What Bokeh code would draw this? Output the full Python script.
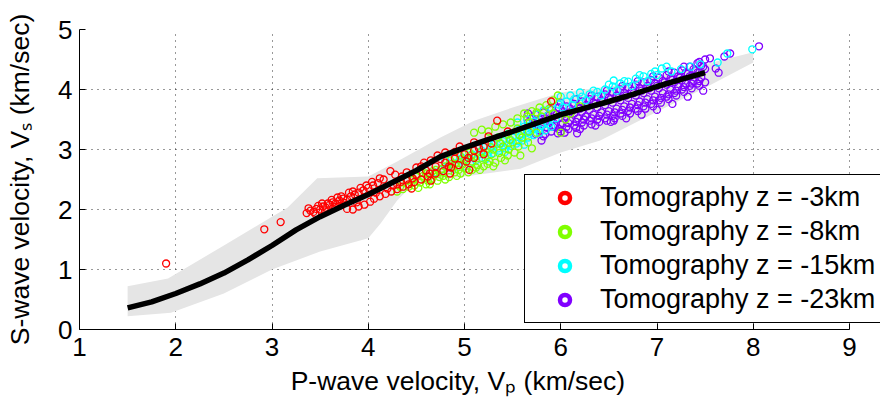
from bokeh.plotting import figure
from bokeh.models import FixedTicker, Legend, LegendItem
from bokeh.core.properties import value
from bokeh.embed import file_html
from bokeh.resources import INLINE

# ---------------- data ----------------
x_ticks = [1, 2, 3, 4, 5, 6, 7, 8, 9]
y_ticks = [0, 1, 2, 3, 4, 5]
x_title = "P-wave velocity, V\u209a (km/sec)"
y_title = "S-wave velocity, V\u209b (km/sec)"

trend_vp = [1.5, 1.75, 2.0, 2.25, 2.5, 2.75, 3.0, 3.25, 3.5, 3.75, 4.0, 4.25, 4.5,
            4.75, 5.0, 5.25, 5.5, 5.75, 6.0, 6.25, 6.5, 6.75, 7.0, 7.25, 7.5]
trend_vs = [0.36, 0.46, 0.60, 0.76, 0.94, 1.16, 1.40, 1.66, 1.88, 2.07, 2.25, 2.45, 2.65,
            2.88, 3.03, 3.17, 3.30, 3.44, 3.58, 3.69, 3.80, 3.92, 4.05, 4.17, 4.28]

band_upper_vp = [1.5, 1.92, 2.5, 3.0, 3.16, 3.47, 4.0, 4.3, 4.75, 5.1, 5.5, 6.0, 6.5, 7.0, 7.5, 8.0]
band_upper_vs = [0.72, 0.85, 1.40, 1.88, 2.03, 2.52, 2.55, 2.80, 3.20, 3.48, 3.70, 3.95, 4.05, 4.22, 4.42, 4.62]
band_lower_vp = [1.5, 1.95, 2.5, 3.0, 3.5, 4.0, 4.13, 4.3, 4.47, 5.0, 5.58, 6.0, 6.41, 7.0, 7.5, 8.0]
band_lower_vs = [0.22, 0.28, 0.60, 1.00, 1.30, 1.52, 1.77, 2.15, 2.43, 2.55, 2.68, 2.95, 3.15, 3.63, 4.03, 4.45]

series_names = ["Tomography z = -3km", "Tomography z = -8km",
                "Tomography z = -15km", "Tomography z = -23km"]
series_colors = ["#ff0000", "#80ff00", "#00ffff", "#8000ff"]

red_pts = [
    (1.90, 1.10), (2.92, 1.67), (3.09, 1.79),
    (3.36, 1.94), (3.40, 1.98), (3.43, 1.96), (3.46, 2.01), (3.50, 2.00), (3.53, 2.05),
    (3.56, 2.03), (3.60, 2.08), (3.63, 2.12), (3.66, 2.10), (3.70, 2.15), (3.74, 2.18),
    (3.78, 2.16), (3.82, 2.22), (3.86, 2.25), (3.90, 2.28), (3.95, 2.32), (4.00, 2.36),
    (4.05, 2.40), (4.10, 2.44), (4.16, 2.50), (4.23, 2.64), (3.45, 1.93), (3.55, 1.97),
    (3.65, 2.04), (3.75, 2.11),
    (3.78, 2.01), (3.84, 2.00), (3.90, 2.05), (3.96, 2.08), (4.02, 2.13), (4.06, 2.18),
    (4.12, 2.22), (4.18, 2.26), (4.24, 2.30), (4.30, 2.34), (4.36, 2.38), (4.42, 2.42),
    (4.48, 2.46), (4.55, 2.50), (4.62, 2.55), (4.70, 2.60), (4.78, 2.64), (4.86, 2.70),
    (4.94, 2.74), (5.02, 2.80), (5.10, 2.86), (4.20, 2.35), (4.30, 2.42), (4.40, 2.50),
    (4.50, 2.58), (4.60, 2.65), (4.70, 2.72), (4.80, 2.78), (4.90, 2.85), (5.00, 2.92),
    (5.10, 2.98), (5.20, 3.05), (5.28, 3.10), (4.45, 2.35), (4.65, 2.48), (4.85, 2.60),
    (5.05, 2.66),
    (4.35, 2.55), (4.50, 2.70), (4.65, 2.82), (4.80, 2.95), (4.95, 3.05), (5.10, 3.12),
    (5.25, 3.22), (5.34, 3.48), (5.45, 3.30), (5.90, 3.80), (4.40, 2.62), (4.58, 2.78),
    (4.72, 2.90),
    (3.48, 2.06), (3.58, 2.10), (3.68, 2.20), (3.80, 2.28), (3.92, 2.36), (4.04, 2.46),
    (3.70, 2.06), (3.88, 2.12), (4.08, 2.28), (4.26, 2.40), (4.46, 2.52), (4.64, 2.60),
    (4.84, 2.72), (5.04, 2.86), (4.55, 2.72), (4.75, 2.84), (4.90, 2.96), (5.15, 3.02),
    (4.34, 2.46), (5.20, 2.92),
    (3.38, 2.02), (3.52, 2.10), (3.62, 2.16), (3.72, 2.22), (3.84, 2.30), (3.98, 2.40),
    (4.12, 2.52), (4.28, 2.58),
]

green_pts = [
    (4.30, 2.30), (4.36, 2.34), (4.42, 2.38), (4.48, 2.40), (4.54, 2.45), (4.60, 2.42),
    (4.66, 2.50), (4.72, 2.48), (4.78, 2.56), (4.84, 2.54), (4.90, 2.62), (4.96, 2.60),
    (5.02, 2.68), (5.08, 2.66), (5.14, 2.74), (5.20, 2.72), (5.26, 2.80), (5.32, 2.78),
    (5.38, 2.86), (5.45, 2.90), (5.52, 2.95), (4.50, 2.55), (4.60, 2.60), (4.70, 2.66),
    (4.80, 2.72), (4.90, 2.76), (5.00, 2.82), (5.10, 2.88), (5.20, 2.94), (5.30, 3.00),
    (5.40, 3.05), (4.85, 2.82), (4.95, 2.90), (5.05, 2.95), (4.40, 2.48), (4.55, 2.62),
    (5.10, 3.28), (5.18, 3.33), (5.25, 3.30), (5.32, 3.38), (5.40, 3.42), (5.48, 3.45),
    (5.55, 3.52), (5.62, 3.60), (5.70, 3.64), (5.78, 3.70), (5.85, 3.74), (5.92, 3.82),
    (5.97, 3.90), (5.65, 3.55), (5.75, 3.62), (5.88, 3.68),
    (6.00, 3.28), (6.10, 3.60), (6.20, 3.72), (5.60, 3.20), (5.75, 3.28),
    (4.45, 2.44), (4.58, 2.52), (4.68, 2.58), (4.76, 2.62), (4.88, 2.70), (4.98, 2.75),
    (5.08, 2.80), (5.18, 2.86), (5.28, 2.92), (5.36, 2.94), (5.46, 3.00), (5.56, 3.05),
    (5.66, 3.12), (5.50, 3.12), (4.62, 2.48), (4.74, 2.54), (4.94, 2.66), (5.12, 2.70),
    (5.24, 2.76), (5.35, 3.20), (5.45, 3.25), (5.55, 3.35), (5.68, 3.45), (5.80, 3.55),
    (5.92, 3.60), (6.05, 3.50),
    (4.33, 2.38), (4.47, 2.50), (4.57, 2.56), (4.67, 2.64), (4.77, 2.68), (4.87, 2.76),
    (4.97, 2.84), (5.07, 2.90), (5.17, 2.96), (5.27, 3.04), (5.37, 3.10), (5.47, 3.16),
    (5.57, 3.24), (5.67, 3.30), (4.52, 2.36), (4.64, 2.42), (4.80, 2.50), (4.92, 2.56),
    (5.04, 2.62), (5.16, 2.66), (5.30, 2.72), (5.42, 2.82), (5.58, 2.90), (5.70, 3.02),
]

cyan_pts = [
    (4.70, 2.62), (4.76, 2.66), (4.82, 2.70), (4.88, 2.68), (4.94, 2.74), (5.00, 2.72),
    (5.06, 2.78), (5.12, 2.82), (5.18, 2.86), (5.24, 2.90), (5.30, 2.94), (5.36, 2.98),
    (5.42, 3.02), (5.48, 3.06), (5.54, 3.10), (5.60, 3.15), (5.66, 3.20), (5.72, 3.24),
    (5.78, 3.28), (5.84, 3.32), (5.90, 3.38),
    (4.80, 2.82), (4.90, 2.88), (5.00, 2.94), (5.10, 2.98), (5.20, 3.04), (5.30, 3.08),
    (5.40, 3.14), (5.50, 3.20), (5.60, 3.26), (5.70, 3.32), (5.80, 3.40),
    (5.55, 3.45), (5.65, 3.50), (5.75, 3.58), (5.82, 3.65), (5.90, 3.70), (5.98, 3.75),
    (6.06, 3.80), (6.14, 3.84), (6.22, 3.88), (6.30, 3.92), (6.38, 3.96), (6.46, 4.00),
    (6.54, 4.05), (6.62, 4.10), (6.70, 4.13), (6.78, 4.18), (6.86, 4.22), (6.94, 4.26),
    (7.05, 4.35), (7.15, 4.30), (7.25, 4.34), (7.35, 4.38), (7.45, 4.42), (7.63, 4.45),
    (7.73, 4.60), (7.99, 4.67), (6.20, 3.95), (6.55, 4.15), (6.00, 3.88),
    (4.85, 2.76), (4.95, 2.82), (5.05, 2.86), (5.15, 2.92), (5.25, 2.96), (5.35, 3.02),
    (5.45, 3.08), (5.55, 3.14), (5.65, 3.28), (5.75, 3.36), (5.85, 3.46), (5.95, 3.52),
    (5.15, 3.06), (5.25, 3.12), (5.35, 3.20), (5.45, 3.26), (5.62, 3.38), (5.72, 3.46),
    (6.02, 3.70), (6.12, 3.74), (6.26, 3.82), (6.42, 3.90), (6.58, 3.98), (6.74, 4.06),
    (6.90, 4.14), (7.00, 4.24),
    (4.98, 2.86), (5.08, 2.92), (5.18, 2.98), (5.28, 3.04), (5.38, 3.10), (5.48, 3.16),
    (5.58, 3.22), (5.68, 3.26), (5.78, 3.34), (5.88, 3.42), (5.02, 2.80), (5.22, 2.84),
    (5.42, 2.96), (5.62, 3.08), (6.10, 3.90), (6.34, 3.98), (6.50, 4.08), (6.66, 4.14),
    (6.82, 4.24), (6.98, 4.30), (7.10, 4.38),
]

purple_pts = [
    (5.66, 3.30), (5.66, 3.45), (5.66, 3.60), (5.74, 3.26), (5.74, 3.40), (5.74, 3.58),
    (5.82, 3.22), (5.82, 3.42), (5.82, 3.62), (5.90, 3.30), (5.90, 3.48), (5.90, 3.66),
    (5.98, 3.34), (5.98, 3.52), (5.98, 3.70), (6.06, 3.38), (6.06, 3.55), (6.06, 3.72),
    (6.14, 3.40), (6.14, 3.60), (6.14, 3.76), (6.22, 3.45), (6.22, 3.63), (6.22, 3.80),
    (6.30, 3.48), (6.30, 3.66), (6.30, 3.84), (6.38, 3.50), (6.38, 3.70), (6.38, 3.88),
    (6.46, 3.52), (6.46, 3.74), (6.46, 3.92), (6.54, 3.56), (6.54, 3.78), (6.54, 3.96),
    (6.62, 3.60), (6.62, 3.82), (6.62, 4.00), (6.70, 3.64), (6.70, 3.86), (6.70, 4.04),
    (6.78, 3.68), (6.78, 3.90), (6.78, 4.08), (6.86, 3.72), (6.86, 3.94), (6.86, 4.12),
    (6.94, 3.76), (6.94, 3.98), (6.94, 4.16), (7.02, 3.82), (7.02, 4.02), (7.02, 4.20),
    (7.10, 3.88), (7.10, 4.08), (7.10, 4.24), (7.18, 3.94), (7.18, 4.12), (7.18, 4.28),
    (7.26, 4.00), (7.26, 4.16), (7.26, 4.32), (7.34, 4.06), (7.34, 4.22), (7.34, 4.38),
    (7.42, 4.10), (7.42, 4.28), (7.42, 4.44), (7.50, 4.12), (7.50, 4.34), (7.50, 4.50),
    (5.70, 3.36), (5.70, 3.52), (5.78, 3.32), (5.78, 3.50), (5.86, 3.36), (5.86, 3.56),
    (5.94, 3.40), (5.94, 3.60), (6.02, 3.44), (6.02, 3.64), (6.10, 3.48), (6.10, 3.68),
    (6.18, 3.52), (6.18, 3.70), (6.26, 3.55), (6.26, 3.74), (6.34, 3.58), (6.34, 3.78),
    (6.42, 3.62), (6.42, 3.82), (6.50, 3.64), (6.50, 3.86), (6.58, 3.68), (6.58, 3.90),
    (6.66, 3.72), (6.66, 3.94), (6.74, 3.76), (6.74, 3.98), (6.82, 3.80), (6.82, 4.02),
    (6.90, 3.84), (6.90, 4.06), (6.98, 3.88), (6.98, 4.10), (7.06, 3.94), (7.06, 4.14),
    (7.14, 4.00), (7.14, 4.18), (7.22, 4.05), (7.22, 4.22), (7.30, 4.10), (7.30, 4.28),
    (7.38, 4.14), (7.38, 4.34), (7.46, 4.20), (7.46, 4.40),
    (5.97, 3.27), (6.17, 3.27), (6.55, 3.48), (7.61, 4.35), (7.64, 4.28), (7.70, 4.55),
    (7.76, 4.60), (8.06, 4.72), (7.55, 4.52), (5.80, 3.15),
    (5.72, 3.44), (5.80, 3.46), (5.88, 3.52), (5.96, 3.58), (6.04, 3.60), (6.12, 3.64),
    (6.20, 3.68), (6.28, 3.72), (6.36, 3.76), (6.44, 3.80), (6.52, 3.84), (6.60, 3.86),
    (6.68, 3.90), (6.76, 3.94), (6.84, 3.98), (6.92, 4.02), (7.00, 4.06), (7.08, 4.12),
    (7.16, 4.16), (7.24, 4.20), (7.32, 4.26), (7.40, 4.32), (7.48, 4.38),
    (6.00, 3.30), (6.08, 3.34), (6.16, 3.36), (6.24, 3.40), (6.32, 3.42), (6.40, 3.46),
    (6.48, 3.48), (6.56, 3.52), (6.64, 3.56), (6.72, 3.60), (6.80, 3.64), (6.88, 3.68),
    (6.96, 3.72), (7.04, 3.78), (7.12, 3.84), (7.20, 3.90), (7.28, 3.96), (7.36, 4.02),
    (7.44, 4.06),
    (6.00, 3.78), (6.16, 3.84), (6.32, 3.90), (6.48, 3.98), (6.64, 4.06), (6.80, 4.14),
    (6.96, 4.22), (7.12, 4.30), (7.28, 4.38), (7.44, 4.46),
    (5.84, 3.26), (5.92, 3.38), (6.00, 3.42), (6.08, 3.44), (6.16, 3.46), (6.24, 3.50),
    (6.32, 3.52), (6.40, 3.56), (6.48, 3.58), (6.56, 3.62), (6.64, 3.66), (6.72, 3.70),
    (6.80, 3.74), (6.88, 3.78), (6.96, 3.82), (7.04, 3.86), (7.12, 3.92), (7.20, 3.98),
    (7.28, 4.04), (7.36, 4.10), (7.44, 4.14),
    (6.04, 3.28), (6.20, 3.34), (6.36, 3.40), (6.52, 3.46), (6.68, 3.52), (6.84, 3.58),
    (7.00, 3.66), (7.16, 3.76), (7.32, 3.88), (7.48, 3.98),
]

series_points = [red_pts, green_pts, cyan_pts, purple_pts]

FONT = "Liberation Sans"
NBSP = "\u00a0"

# ---------------- figure ----------------
# frame: x=1 at px 79, x=9 at px 849 (frame continues to the right edge so the
# legend may overhang the x=9 line like in the reference)
p = figure(frame_width=801, frame_height=300,
           min_border_left=79, min_border_right=0, min_border_top=29, min_border_bottom=76,
           x_range=(1, 9.322), y_range=(0, 5),
           output_backend="svg", toolbar_location=None)
p.outline_line_color = None
p.background_fill_color = "white"
p.border_fill_color = "white"

# shaded band
band_x = band_upper_vp + band_lower_vp[::-1]
band_y = band_upper_vs + band_lower_vs[::-1]
p.patch(band_x, band_y, fill_color="#e5e5e5", line_color=None)

# scatter series (drawn last-first so red sits on top)
series_xy = []
for pts in series_points:
    series_xy.append(([a for a, b in pts], [b for a, b in pts]))

for (xs, ys), col in reversed(list(zip(series_xy, series_colors))):
    p.scatter(xs, ys, marker="circle", size=7, fill_color=None,
              line_color=col, line_width=1.3)

# trend line
p.line(trend_vp, trend_vs, line_color="black", line_width=5.5)

# axes
p.xaxis.ticker = FixedTicker(ticks=x_ticks)
p.yaxis.ticker = FixedTicker(ticks=y_ticks)
p.xaxis.bounds = (1, 9)
for ax in (p.xaxis, p.yaxis):
    ax.major_tick_in = 6
    ax.major_tick_out = 0
    ax.minor_tick_line_color = None
    ax.axis_line_color = "black"
    ax.major_tick_line_color = "black"
    ax.major_label_text_font = FONT
    ax.major_label_text_font_size = "26px"
    ax.major_label_text_color = "black"
    ax.axis_label_text_font = FONT
    ax.axis_label_text_font_size = "26.5px"
    ax.axis_label_text_font_style = "normal"
    ax.axis_label_text_color = "black"
p.xaxis.major_label_standoff = 8
p.yaxis.major_label_standoff = 7
# trailing no-break spaces move the centred title over the x=1..9 span
p.xaxis.axis_label = x_title + NBSP * 6
p.yaxis.axis_label = y_title
p.xaxis.axis_label_standoff = 7
p.yaxis.axis_label_standoff = 20

p.grid.grid_line_color = "black"
p.grid.grid_line_alpha = 0.8
p.grid.grid_line_dash = "1 5"
p.grid.grid_line_width = 1

# legend: hidden copies of each series drawn with bold rings for the key
items = []
for (xs, ys), name, col in zip(series_xy, series_names, series_colors):
    r = p.scatter(xs, ys, marker="circle", size=10, fill_color=None,
                  line_color=col, line_width=4.5, visible=False)
    items.append(LegendItem(label=value(name), renderers=[r]))

legend = Legend(items=items, location=(445, 6), padding=7, spacing=3, margin=0,
                glyph_width=65, glyph_height=25, label_standoff=3,
                label_text_font=FONT, label_text_font_size="27px",
                label_text_color="black",
                border_line_color="black", border_line_width=1, border_line_alpha=1,
                background_fill_color="white", background_fill_alpha=1,
                inactive_fill_alpha=0)
p.add_layout(legend)

open("out.html", "w").write(file_html(p, INLINE))
